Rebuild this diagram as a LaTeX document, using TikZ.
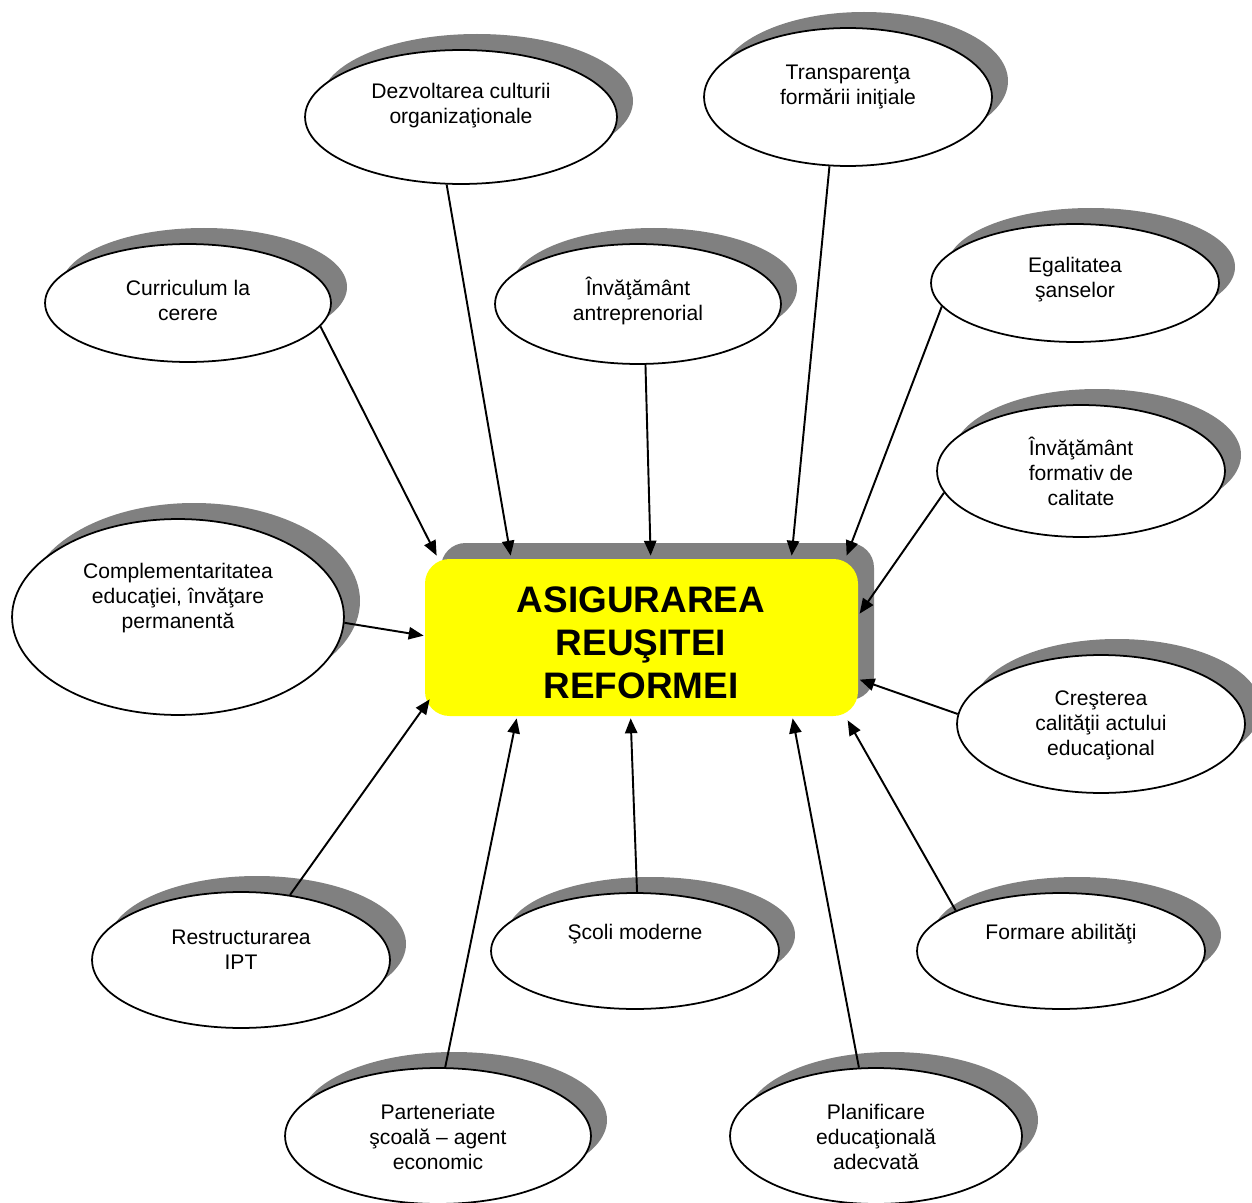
\documentclass[tikz,border=0pt]{standalone}
\usepackage{fontspec}
\setmainfont{Liberation Sans}
\usetikzlibrary{shapes.geometric,arrows.meta,calc}
\definecolor{shadowgray}{RGB}{128,128,128}
\definecolor{goalyellow}{RGB}{255,255,0}
\begin{document}
\begin{tikzpicture}[x=0.02cm, y=-0.02cm, line join=round, >={Triangle[length=8.5pt,width=7pt]},
	bubble/.style={ellipse, draw, line width=1pt, fill=white, inner sep=0pt},
	txt/.style={align=center, font=\fontsize{12}{14.2}\selectfont},
	link/.style={->, line width=1.1pt}]
	\useasboundingbox (0,0) rectangle (1252,1203);
	% shadows and bubbles
	\foreach \n/\x/\y/\rx/\ry in {dezv/461/117/156/67, transp/848/97/144/69, curr/188/303/143/59,
		antr/638/304/143/60, egal/1075/283/144/59, calit/1081/471/144/66, compl/178/617/166/98,
		cresc/1101/724/144/69, restr/241/960/149/68, scoli/635/951/144/58, abil/1061/951/144/58,
		part/438/1136/153/68, plan/876/1136/146/68}
	{
		\fill[shadowgray] (\x+16,\y-16) ellipse [x radius=\rx, y radius=\ry];
		\node[bubble, minimum width=\rx*0.04cm, minimum height=\ry*0.04cm] (\n) at (\x,\y) {};
	}
	\node[txt] (dezvT) at (461,106) {Dezvoltarea culturii\\organizaţionale};
	\node[txt] (transpT) at (848,87) {Transparenţa\\formării iniţiale};
	\node[txt] (currT) at (188,300) {Curriculum la\\cerere};
	\node[txt] (antrT) at (638,301) {Învăţământ\\antreprenorial};
	\node[txt] (egalT) at (1075,280) {Egalitatea\\şanselor};
	\node[txt] (calitT) at (1081,471) {Învăţământ\\formativ de\\calitate};
	\node[txt] (complT) at (178,598) {Complementaritatea\\educaţiei, învăţare\\permanentă};
	\node[txt] (crescT) at (1101,725) {Creşterea\\calităţii actului\\educaţional};
	\node[txt] (restrT) at (241,950) {Restructurarea\\IPT};
	\node[txt] (scoliT) at (635,934) {Şcoli moderne};
	\node[txt] (abilT) at (1061,934) {Formare abilităţi};
	\node[txt] (partT) at (438,1137) {Parteneriate\\şcoală – agent\\economic};
	\node[txt] (planT) at (876,1137) {Planificare\\educaţională\\adecvată};
	% central box
	\fill[shadowgray, rounded corners=14pt] (441,543) rectangle (874,700);
	\node[fill=goalyellow, rounded corners=14pt, inner sep=0pt, minimum width=433*0.02cm,
		minimum height=157*0.02cm] (goal) at (641.5,637.5) {};
	\node[align=center, font=\fontsize{21}{24.4}\selectfont\bfseries] (goalT) at (641,643)
		{ASIGURAREA\\REUŞITEI\\REFORMEI};
	% arrows
	\draw[link] (curr.-10) -- ($(goal.north west)+(12,-3)$);
	\draw[link] (dezv.-102) -- ($(goal.north west)+(86,-3)$);
	\draw[link] (antr.-83) -- ($(goal.north west)+(226,-3)$);
	\draw[link] (transp.-105) -- ($(goal.north west)+(367,-3)$);
	\draw[link] (egal.-170) -- ($(goal.north west)+(422,-3)$);
	\draw[link] (calit.-171) -- ($(goal.north west)+(435,55)$);
	\draw[link] (compl.-2) -- ($(goal.north west)+(-1,77)$);
	\draw[link] (cresc.176) -- ($(goal.north west)+(435,121)$);
	\draw[link] (abil.159) -- ($(goal.south west)+(423,4)$);
	\draw[link] (plan.104) -- ($(goal.south west)+(368,2)$);
	\draw[link] (scoli.88) -- ($(goal.south west)+(206,2)$);
	\draw[link] (part.84) -- ($(goal.south west)+(92,2)$);
	\draw[link] (restr.53) -- ($(goal.south west)+(5,-17)$);
\end{tikzpicture}
\end{document}
